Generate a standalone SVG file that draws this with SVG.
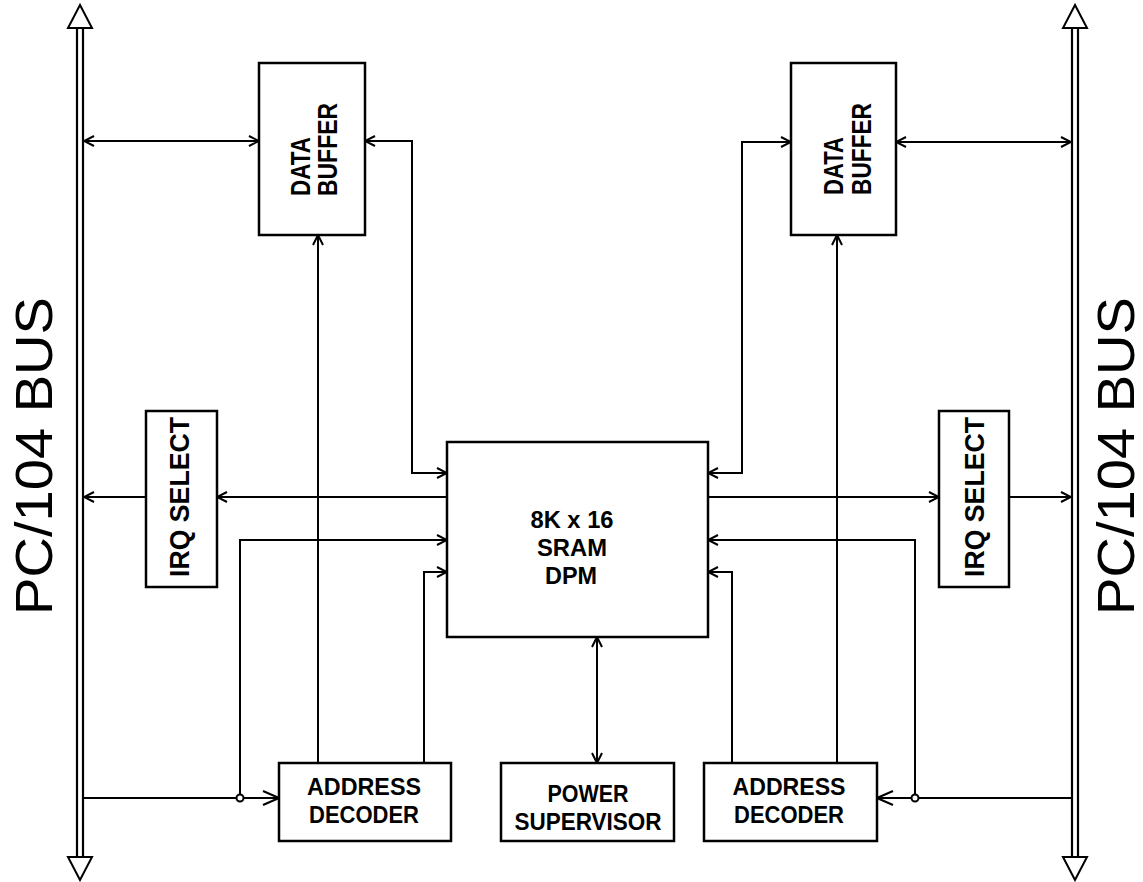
<svg xmlns="http://www.w3.org/2000/svg" width="1143" height="882" viewBox="0 0 1143 882">
<defs>
<style>
.box{fill:#fff;stroke:#000;stroke-width:2.5}
.ln{fill:none;stroke:#000;stroke-width:2}
.bus{fill:none;stroke:#000;stroke-width:2.2}
.tri{fill:#fff;stroke:#000;stroke-width:2;stroke-linejoin:miter}
.t{font-family:"Liberation Sans",Arial,sans-serif;font-weight:bold;font-size:23px;fill:#000;text-anchor:middle}
.v{font-family:"Liberation Sans",Arial,sans-serif;font-weight:bold;font-size:28px;fill:#000}
.bt{font-family:"Liberation Sans",Arial,sans-serif;font-size:51px;fill:#000;text-anchor:middle}
</style>
<marker id="a" viewBox="0 0 12 12" refX="11" refY="6" markerWidth="12" markerHeight="12" markerUnits="userSpaceOnUse" orient="auto-start-reverse">
<path d="M1,1 L11,6 L1,11" fill="none" stroke="#000" stroke-width="2"/>
</marker>
<marker id="b" viewBox="0 0 18 18" refX="17" refY="9" markerWidth="18" markerHeight="18" markerUnits="userSpaceOnUse" orient="auto-start-reverse">
<path d="M1,2 L17,9 L1,16" fill="none" stroke="#000" stroke-width="2"/>
</marker>
</defs>
<rect width="1143" height="882" fill="#fff"/>

<g id="bus-left">
<line class="bus" x1="77" y1="28" x2="77" y2="857"/>
<line class="bus" x1="83" y1="28" x2="83" y2="857"/>
<polygon class="tri" points="80,5 68,28 92,28"/>
<polygon class="tri" points="80,880 68,857 92,857"/>
<text class="bt" transform="translate(52,456) rotate(-90)" textLength="318" lengthAdjust="spacingAndGlyphs">PC/104 BUS</text>
</g>
<g id="bus-right">
<line class="bus" x1="1072" y1="28" x2="1072" y2="857"/>
<line class="bus" x1="1078" y1="28" x2="1078" y2="857"/>
<polygon class="tri" points="1075,5 1063,28 1087,28"/>
<polygon class="tri" points="1075,880 1063,857 1087,857"/>
<text class="bt" transform="translate(1134,456) rotate(-90)" textLength="318" lengthAdjust="spacingAndGlyphs">PC/104 BUS</text>
</g>

<g id="connectors">
<line class="ln" x1="84" y1="141" x2="259" y2="141" marker-start="url(#a)" marker-end="url(#a)"/>
<polyline class="ln" points="447,473 412,473 412,141 365,141" marker-start="url(#a)" marker-end="url(#a)"/>
<line class="ln" x1="318" y1="763" x2="318" y2="235" marker-end="url(#a)"/>
<line class="ln" x1="447" y1="497" x2="217" y2="497" marker-end="url(#a)"/>
<line class="ln" x1="146" y1="497" x2="84" y2="497" marker-end="url(#a)"/>
<line class="ln" x1="84" y1="798" x2="279" y2="798" marker-end="url(#b)"/>
<polyline class="ln" points="240,798 240,540 447,540" marker-end="url(#a)"/>
<polyline class="ln" points="424,763 424,572 447,572" marker-end="url(#a)"/>
<line class="ln" x1="597" y1="637" x2="597" y2="763" marker-start="url(#a)" marker-end="url(#a)"/>
<polyline class="ln" points="708,473 742,473 742,142 791,142" marker-start="url(#a)" marker-end="url(#a)"/>
<line class="ln" x1="896" y1="142" x2="1071" y2="142" marker-start="url(#a)" marker-end="url(#a)"/>
<line class="ln" x1="837" y1="763" x2="837" y2="235" marker-end="url(#a)"/>
<line class="ln" x1="708" y1="497" x2="939" y2="497" marker-end="url(#a)"/>
<line class="ln" x1="1009" y1="497" x2="1071" y2="497" marker-end="url(#a)"/>
<line class="ln" x1="1071" y1="798" x2="877" y2="798" marker-end="url(#b)"/>
<polyline class="ln" points="915,798 915,540 708,540" marker-end="url(#a)"/>
<polyline class="ln" points="732,763 732,572 708,572" marker-end="url(#a)"/>
<circle cx="240" cy="798" r="3.5" fill="#fff" stroke="#000" stroke-width="2"/>
<circle cx="915" cy="798" r="3.5" fill="#fff" stroke="#000" stroke-width="2"/>
</g>

<g id="data-buffer-left">
<rect class="box" x="259" y="63" width="106" height="172"/>
<text class="v" transform="translate(310,196) rotate(-90)" textLength="59" lengthAdjust="spacingAndGlyphs">DATA</text>
<text class="v" transform="translate(337,196) rotate(-90)" textLength="93" lengthAdjust="spacingAndGlyphs">BUFFER</text>
</g>
<g id="data-buffer-right">
<rect class="box" x="791" y="63" width="105" height="172"/>
<text class="v" transform="translate(843,195) rotate(-90)" textLength="58" lengthAdjust="spacingAndGlyphs">DATA</text>
<text class="v" transform="translate(871,195) rotate(-90)" textLength="92" lengthAdjust="spacingAndGlyphs">BUFFER</text>
</g>
<g id="irq-select-left">
<rect class="box" x="146" y="411" width="71" height="176"/>
<text class="v" text-anchor="middle" transform="translate(189,497) rotate(-90)" textLength="160" lengthAdjust="spacingAndGlyphs">IRQ SELECT</text>
</g>
<g id="irq-select-right">
<rect class="box" x="939" y="411" width="70" height="176"/>
<text class="v" text-anchor="middle" transform="translate(984,497) rotate(-90)" textLength="160" lengthAdjust="spacingAndGlyphs">IRQ SELECT</text>
</g>
<g id="sram">
<rect class="box" x="447" y="442" width="261" height="195"/>
<text class="t" x="572" y="528" textLength="83" lengthAdjust="spacingAndGlyphs">8K x 16</text>
<text class="t" x="572" y="556" textLength="70" lengthAdjust="spacingAndGlyphs">SRAM</text>
<text class="t" x="571" y="584" textLength="52" lengthAdjust="spacingAndGlyphs">DPM</text>
</g>
<g id="address-decoder-left">
<rect class="box" x="279" y="763" width="172" height="78"/>
<text class="t" x="364" y="795" textLength="114" lengthAdjust="spacingAndGlyphs">ADDRESS</text>
<text class="t" x="364" y="823" textLength="110" lengthAdjust="spacingAndGlyphs">DECODER</text>
</g>
<g id="power-supervisor">
<rect class="box" x="501" y="763" width="173" height="78"/>
<text class="t" x="588" y="802" textLength="81" lengthAdjust="spacingAndGlyphs">POWER</text>
<text class="t" x="588" y="830" textLength="147" lengthAdjust="spacingAndGlyphs">SUPERVISOR</text>
</g>
<g id="address-decoder-right">
<rect class="box" x="704" y="763" width="173" height="78"/>
<text class="t" x="789" y="795" textLength="113" lengthAdjust="spacingAndGlyphs">ADDRESS</text>
<text class="t" x="789" y="823" textLength="110" lengthAdjust="spacingAndGlyphs">DECODER</text>
</g>
</svg>
